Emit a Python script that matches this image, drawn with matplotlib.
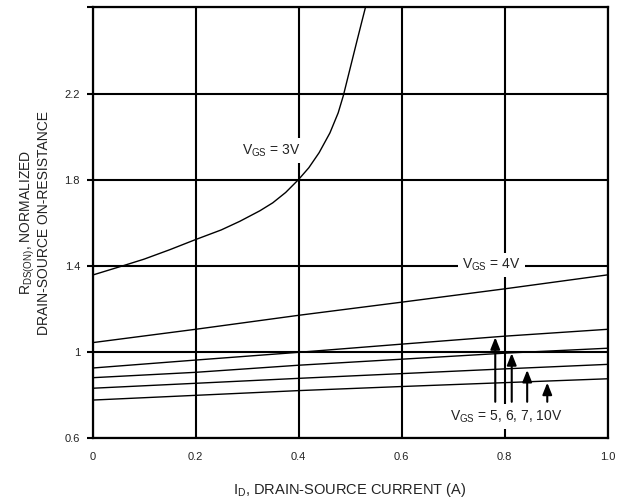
import matplotlib
matplotlib.use("Agg")
import matplotlib.pyplot as plt

plt.rcParams['font.family'] = ['Liberation Sans', 'DejaVu Sans']
plt.rcParams['mathtext.fontset'] = 'custom'
plt.rcParams['mathtext.rm'] = 'Liberation Sans'

# ---- data ----
x_ticks = [0, 0.2, 0.4, 0.6, 0.8, 1.0]
x_tick_labels = ["0", "0.2", "0.4", "0.6", "0.8", "1.0"]
y_ticks = [0.6, 1.0, 1.4, 1.8, 2.2, 2.6]
y_tick_labels = ["0.6", "1", "1.4", "1.8", "2.2", ""]

id_3v = [0, 0.06, 0.1, 0.15, 0.2, 0.25, 0.286, 0.325, 0.35, 0.375, 0.4,
         0.42, 0.44, 0.461, 0.477, 0.487, 0.5, 0.513, 0.523, 0.531]
r_3v = [1.356, 1.400, 1.430, 1.474, 1.521, 1.566, 1.606, 1.655, 1.692, 1.740, 1.8,
        1.855, 1.925, 2.017, 2.110, 2.190, 2.315, 2.440, 2.535, 2.610]

id_lin = [0, 0.2, 0.4, 0.6, 0.8, 1.0]
r_4v = [1.042, 1.104, 1.169, 1.230, 1.292, 1.357]
r_5v = [0.924, 0.961, 0.997, 1.035, 1.072, 1.104]
r_6v = [0.879, 0.904, 0.937, 0.965, 0.993, 1.016]
r_7v = [0.830, 0.853, 0.876, 0.898, 0.920, 0.941]
r_10v = [0.775, 0.797, 0.819, 0.838, 0.856, 0.874]

arrow_x = [0.782, 0.814, 0.844, 0.883]
arrow_tip = [1.067, 0.993, 0.915, 0.856]
arrow_base = 0.767

# ---- figure ----
fig = plt.figure(figsize=(6.28, 4.99), dpi=100)
ax = fig.add_axes([0.1473, 0.1228, 0.8201, 0.8622])

ax.set_xlim(0, 1.0)
ax.set_ylim(0.6, 2.6)
ax.set_xticks(x_ticks)
ax.set_xticklabels(x_tick_labels)
ax.set_yticks(y_ticks)
ax.set_yticklabels(y_tick_labels)
ax.tick_params(axis='x', length=0, pad=10, labelsize=8, labelcolor='#222222')
ax.tick_params(axis='y', length=4, width=1.5, pad=5, labelsize=8,
               labelcolor='#222222', color='black')

ax.grid(True, color='black', linewidth=1.5)
ax.set_axisbelow(True)
for s in ax.spines.values():
    s.set_linewidth(1.6)
    s.set_color('black')

lw = 1.0
ax.plot(id_3v, r_3v, color='black', lw=lw, zorder=2)
for r in (r_4v, r_5v, r_6v, r_7v, r_10v):
    ax.plot(id_lin, r, color='black', lw=lw, zorder=2)

for xa, yt in zip(arrow_x, arrow_tip):
    ax.annotate('', xy=(xa, yt), xytext=(xa, arrow_base),
                arrowprops=dict(arrowstyle='-|>,head_length=0.7,head_width=0.28',
                                lw=1.5, color='black', shrinkA=0, shrinkB=0),
                zorder=4)

bbox = dict(facecolor='white', edgecolor='none', pad=3)
ax.text(0.348, 1.935, r"V$_{\mathregular{GS}}$ = 3V", ha='center', va='center',
        fontsize=10, color='#222222', bbox=bbox, zorder=3)
ax.text(0.774, 1.403, r"V$_{\mathregular{GS}}$ = 4V", ha='center', va='center',
        fontsize=10, color='#222222', bbox=bbox, zorder=3)
ax.text(0.804, 0.698, r"V$_{\mathregular{GS}}$ = 5, 6, 7, 10V", ha='center', va='center',
        fontsize=10, color='#222222', bbox=bbox, zorder=3)

ax.set_xlabel(r"I$_{\mathregular{D}}$, DRAIN-SOURCE CURRENT (A)", fontsize=10.5,
              color='#222222', labelpad=14)
ax.set_ylabel("R$_{\\mathregular{DS(ON)}}$, NORMALIZED\nDRAIN-SOURCE ON-RESISTANCE",
              fontsize=10, color='#222222', labelpad=10, linespacing=0.95)

fig.savefig("out.png", dpi=100)
